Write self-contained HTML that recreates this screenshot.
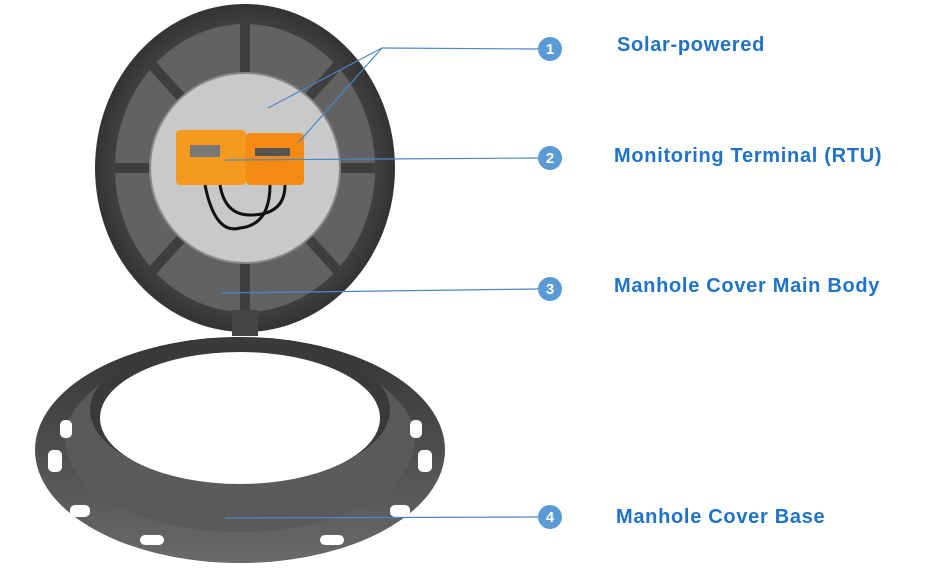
<!DOCTYPE html>
<html><head><style>
body{margin:0;background:#fff;width:937px;height:581px;overflow:hidden;font-family:"Liberation Sans",sans-serif}
.t{position:absolute;color:#1f73c8;font-weight:bold;font-size:20px;letter-spacing:0.7px;white-space:nowrap}
</style></head><body>
<svg width="937" height="581" style="position:absolute;left:0;top:0">
<defs>
<radialGradient id="g1" cx="50%" cy="50%" r="50%"><stop offset="0.6" stop-color="#5a5a5a"/><stop offset="1" stop-color="#333"/></radialGradient>
<linearGradient id="g2" x1="0" y1="0" x2="0" y2="1"><stop offset="0" stop-color="#333"/><stop offset="1" stop-color="#6a6a6a"/></linearGradient>
</defs>
<ellipse cx="240" cy="450" rx="205" ry="113" fill="url(#g2)"/>
<ellipse cx="240" cy="440" rx="175" ry="92" fill="#5a5a5a"/>
<ellipse cx="240" cy="410" rx="150" ry="72" fill="#3a3a3a"/>
<ellipse cx="240" cy="418" rx="140" ry="66" fill="#fff"/>
<g fill="#fff">
<rect x="48" y="450" width="14" height="22" rx="5"/><rect x="418" y="450" width="14" height="22" rx="5"/>
<rect x="70" y="505" width="20" height="12" rx="5"/><rect x="390" y="505" width="20" height="12" rx="5"/>
<rect x="140" y="535" width="24" height="10" rx="5"/><rect x="320" y="535" width="24" height="10" rx="5"/>
<rect x="60" y="420" width="12" height="18" rx="5"/><rect x="410" y="420" width="12" height="18" rx="5"/>
</g>
<ellipse cx="245" cy="168" rx="150" ry="164" fill="url(#g1)"/>
<ellipse cx="245" cy="168" rx="130" ry="144" fill="#626262"/>
<g stroke="#3e3e3e" stroke-width="10">
<line x1="245" y1="24" x2="245" y2="312"/><line x1="115" y1="168" x2="375" y2="168"/>
<line x1="152" y1="65" x2="338" y2="271"/><line x1="338" y1="65" x2="152" y2="271"/>
</g>
<rect x="232" y="310" width="26" height="26" fill="#444"/>
<circle cx="245" cy="168" r="95" fill="#c9c9c9" stroke="#888" stroke-width="2"/>
<rect x="176" y="130" width="70" height="55" rx="4" fill="#f39a1e"/>
<rect x="246" y="133" width="58" height="52" rx="4" fill="#f58a12"/>
<rect x="190" y="145" width="30" height="12" fill="#777"/>
<rect x="255" y="148" width="35" height="8" fill="#555"/>
<path d="M205 185 Q215 235 240 228 Q270 225 270 185" stroke="#111" stroke-width="3" fill="none"/>
<path d="M220 185 Q225 215 250 215 Q285 215 285 185" stroke="#111" stroke-width="3" fill="none"/>
<g stroke="#4a86c8" stroke-width="1.2" fill="none">
<line x1="268" y1="108" x2="382" y2="48"/><line x1="298" y1="143" x2="382" y2="48"/><line x1="382" y1="48" x2="538" y2="49"/>
<line x1="225" y1="160" x2="538" y2="158"/>
<line x1="222" y1="293" x2="538" y2="289"/>
<line x1="225" y1="518" x2="538" y2="517"/>
</g>
<g fill="#5b9bd5">
<circle cx="550" cy="49" r="12"/><circle cx="550" cy="158" r="12"/><circle cx="550" cy="289" r="12"/><circle cx="550" cy="517" r="12"/>
</g>
<g fill="#fff" font-family="Liberation Sans" font-weight="bold" font-size="15" text-anchor="middle">
<text x="550" y="54">1</text><text x="550" y="163">2</text><text x="550" y="294">3</text><text x="550" y="522">4</text>
</g>
</svg>
<div class="t" style="left:617px;top:34px">Solar-powered</div>
<div class="t" style="left:614px;top:145px">Monitoring Terminal (RTU)</div>
<div class="t" style="left:614px;top:275px">Manhole Cover Main Body</div>
<div class="t" style="left:616px;top:506px">Manhole Cover Base</div>
</body></html>
